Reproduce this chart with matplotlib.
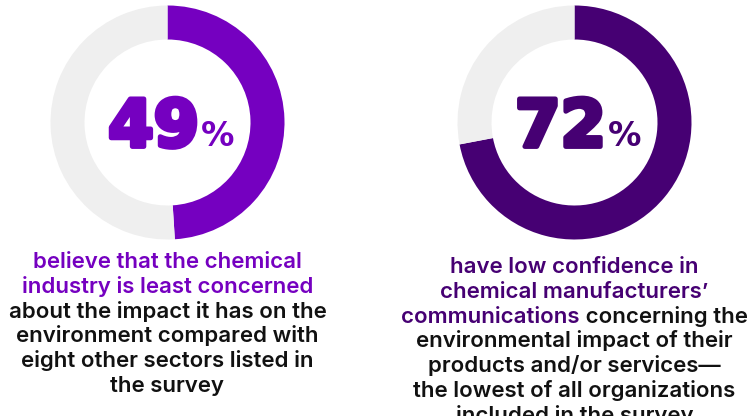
import matplotlib.pyplot as plt
import matplotlib.patheffects as pe

# data
values = [49, 72]
labels = ["49", "72"]
ring_colors = ["#7500C0", "#460073"]
rest_color = "#EFEFEF"

# caption lines: (accent part, black part)
captions = [
    [("believe that the chemical", ""),
     ("industry is least concerned", ""),
     ("", "about the impact it has on the"),
     ("", "environment compared with"),
     ("", "eight other sectors listed in"),
     ("", "the survey")],
    [("have low confidence in", ""),
     ("chemical manufacturers\u2019", ""),
     ("communications", " concerning the"),
     ("", "environmental impact of their"),
     ("", "products and/or services\u2014"),
     ("", "the lowest of all organizations"),
     ("", "included in the survey")],
]

W, H = 755, 416
fig = plt.figure(figsize=(W / 100, H / 100), dpi=100)
fig.patch.set_facecolor("white")

# text layer in pixel coords
tax = fig.add_axes([0, 0, 1, 1])
tax.set_xlim(0, W)
tax.set_ylim(H, 0)
tax.axis("off")

centers = [(167.5, 122.5), (574.5, 122.5)]
radius = 117
ring_w = 34
split_x = [200, 607]
cap_top = [268, 273]
line_gap = 24.8
font = "Inter"
fs = 16
fw = "semibold"

fig.canvas.draw()
renderer = fig.canvas.get_renderer()

for i, v in enumerate(values):
    cx, cy = centers[i]
    pax = fig.add_axes([(cx - radius) / W, (H - cy - radius) / H,
                        2 * radius / W, 2 * radius / H])
    pax.pie([v, 100 - v], colors=[ring_colors[i], rest_color], startangle=90,
            counterclock=False, radius=1,
            wedgeprops=dict(width=ring_w / radius, linewidth=0))
    pax.set_xlim(-1, 1)
    pax.set_ylim(-1, 1)
    pax.axis("off")

    # big number
    heavy = [pe.withStroke(linewidth=3.5, foreground=ring_colors[i])]
    tax.text(split_x[i] - 1, cy + 24, labels[i], ha="right", va="baseline",
             fontsize=47, fontweight="bold", color=ring_colors[i],
             family="DejaVu Sans", path_effects=heavy)
    tax.text(split_x[i] + 1, cy + 24, "%", ha="left", va="baseline",
             fontsize=24, fontweight="bold", color=ring_colors[i],
             family="DejaVu Sans")

    # caption
    for j, (acc, blk) in enumerate(captions[i]):
        y = cap_top[i] + j * line_gap
        full = tax.text(cx, y, acc + blk, ha="center", va="baseline",
                        fontsize=fs, fontweight=fw, family=font)
        bb = full.get_window_extent(renderer)
        full.remove()
        x0 = bb.x0
        w1 = 0
        if acc:
            t1 = tax.text(x0, y, acc, ha="left", va="baseline", fontsize=fs,
                          fontweight=fw, family=font, color=ring_colors[i])
            w1 = t1.get_window_extent(renderer).width
        if blk:
            tax.text(x0 + w1, y, blk, ha="left", va="baseline", fontsize=fs,
                     fontweight=fw, family=font, color="#111111")

fig.savefig("out.png", dpi=100, facecolor="white")
